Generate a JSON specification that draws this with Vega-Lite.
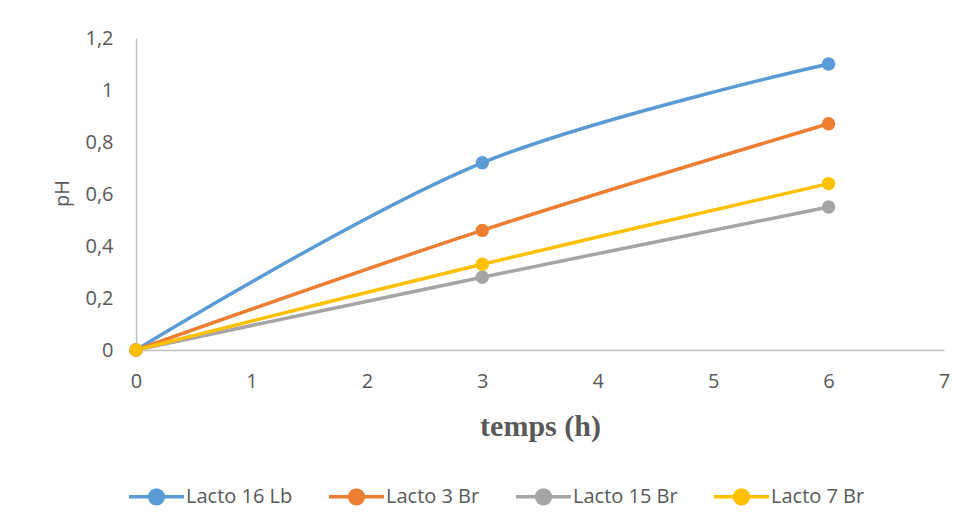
{
  "$schema": "https://vega.github.io/schema/vega-lite/v6.json",
  "width": 808,
  "height": 312,
  "autosize": {"type": "none"},
  "padding": {"left": 136, "top": 38, "right": 23, "bottom": 178},
  "background": "white",
  "config": {
    "view": {"stroke": null},
    "font": "Open Sans"
  },
  "data": {
    "values": [
      {"serie": "Lacto 16 Lb", "temps": 0, "pH": 0},
      {"serie": "Lacto 16 Lb", "temps": 3, "pH": 0.72},
      {"serie": "Lacto 16 Lb", "temps": 6, "pH": 1.1},
      {"serie": "Lacto 3 Br", "temps": 0, "pH": 0},
      {"serie": "Lacto 3 Br", "temps": 3, "pH": 0.46},
      {"serie": "Lacto 3 Br", "temps": 6, "pH": 0.87},
      {"serie": "Lacto 15 Br", "temps": 0, "pH": 0},
      {"serie": "Lacto 15 Br", "temps": 3, "pH": 0.28},
      {"serie": "Lacto 15 Br", "temps": 6, "pH": 0.55},
      {"serie": "Lacto 7 Br", "temps": 0, "pH": 0},
      {"serie": "Lacto 7 Br", "temps": 3, "pH": 0.33},
      {"serie": "Lacto 7 Br", "temps": 6, "pH": 0.64}
    ]
  },
  "mark": {
    "type": "line",
    "interpolate": "catmull-rom",
    "strokeWidth": 3.5,
    "point": {"filled": true, "size": 180, "opacity": 1}
  },
  "encoding": {
    "x": {
      "field": "temps",
      "type": "quantitative",
      "scale": {"domain": [0, 7], "nice": false, "zero": true},
      "axis": {
        "title": "temps (h)",
        "values": [0, 1, 2, 3, 4, 5, 6, 7],
        "grid": false,
        "ticks": false,
        "domainColor": "#BFBFBF",
        "domainWidth": 1.5,
        "labelFont": "Open Sans",
        "labelFontSize": 20,
        "labelColor": "#595959",
        "labelPadding": 21,
        "labelFlush": false,
        "titleFont": "Liberation Serif",
        "titleFontSize": 30,
        "titleFontWeight": "bold",
        "titleColor": "#595959",
        "titleX": 404,
        "titleY": 85,
        "titleAlign": "center",
        "titleBaseline": "alphabetic"
      }
    },
    "y": {
      "field": "pH",
      "type": "quantitative",
      "scale": {"domain": [0, 1.2], "nice": false},
      "axis": {
        "title": "pH",
        "values": [0, 0.2, 0.4, 0.6, 0.8, 1, 1.2],
        "labelExpr": "replace(format(datum.value, '.1~f'), '.', ',')",
        "grid": false,
        "ticks": false,
        "domainColor": "#BFBFBF",
        "domainWidth": 1.5,
        "labelFont": "Open Sans",
        "labelFontSize": 20,
        "labelColor": "#595959",
        "labelPadding": 23,
        "labelFlush": false,
        "titleFont": "Open Sans",
        "titleFontSize": 20,
        "titleFontWeight": "normal",
        "titleColor": "#595959",
        "titleAngle": -90,
        "titleX": -74,
        "titleY": 155,
        "titleAlign": "center",
        "titleBaseline": "middle"
      }
    },
    "color": {
      "field": "serie",
      "type": "nominal",
      "sort": ["Lacto 16 Lb", "Lacto 3 Br", "Lacto 15 Br", "Lacto 7 Br"],
      "scale": {
        "domain": ["Lacto 16 Lb", "Lacto 3 Br", "Lacto 15 Br", "Lacto 7 Br"],
        "range": ["#5B9BD5", "#ED7D31", "#A5A5A5", "#FFC000"]
      },
      "legend": {
        "title": null,
        "orient": "none",
        "direction": "horizontal",
        "legendX": -9,
        "legendY": 429,
        "columnPadding": 29,
        "labelOffset": 0,
        "labelFont": "Open Sans",
        "labelFontSize": 20,
        "labelColor": "#595959",
        "symbolType": "M-1,0H1M-0.25,0A0.25,0.25 0 1,1 0.25,0A0.25,0.25 0 1,1 -0.25,0Z",
        "symbolSize": 3025,
        "symbolStrokeWidth": 3.5,
        "symbolOpacity": 1,
        "encode": {
          "symbols": {
            "update": {
              "fill": {"scale": "color", "field": "value"},
              "stroke": {"scale": "color", "field": "value"},
              "fillOpacity": {"value": 1},
              "strokeOpacity": {"value": 1}
            }
          }
        }
      }
    }
  }
}
